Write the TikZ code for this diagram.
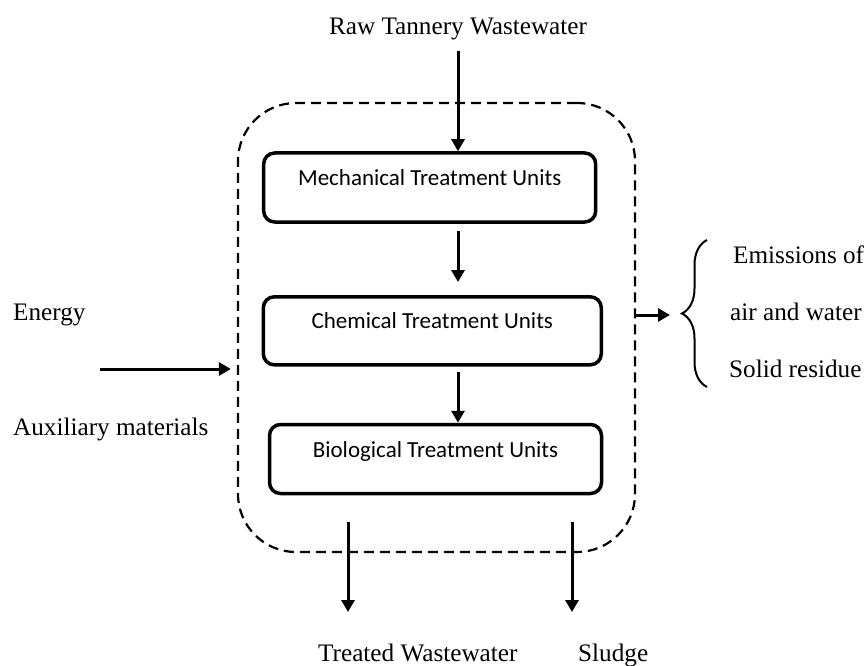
\documentclass[tikz,border=0pt]{standalone}
\usepackage{fontspec}
\setmainfont{Liberation Serif}
\newfontfamily\boxfont{Carlito}
\usetikzlibrary{arrows.meta,decorations.pathreplacing}

\begin{document}
\begin{tikzpicture}[x=1pt,y=-1pt,
  lbl/.style={font=\fontsize{25.2}{28}\selectfont, inner sep=0pt, anchor=base west},
  unit/.style={draw, line width=3.5pt, rounded corners=11pt, minimum width=#1,
    minimum height=69pt, inner sep=0pt, font=\boxfont\fontsize{23}{26}\selectfont,
    text height=16pt, text depth=20pt},
  plantbox/.style={draw, line width=2.2pt, dash pattern=on 10pt off 6pt,
    rounded corners=58pt, minimum width=397pt, minimum height=449pt, inner sep=0pt},
  flow/.style={line width=3pt, -{Triangle[length=12pt,width=13pt]}},
  bracket/.style={line width=2pt, decorate, decoration={brace, amplitude=25pt, aspect=0.5}}
]
\useasboundingbox (0,0) rectangle (868,666);

% system boundary
\node[plantbox] (plant) at (436.5,327.5) {};

% treatment stages
\node[unit=332pt] (mech) at (429.7,187.5) {Mechanical Treatment Units};
\node[unit=338pt, minimum height=68pt] (chem) at (432.3,330.8) {Chemical Treatment Units};
\node[unit=332pt] (bio) at (435.5,459) {Biological Treatment Units};

% labels
\node[lbl, anchor=base] (raw) at (458,35) {Raw Tannery Wastewater};
\node[lbl] (energy) at (13,320) {Energy};
\node[lbl] (aux) at (13,435) {Auxiliary materials};
\node[lbl] (emis) at (733,263) {Emissions of};
\node[lbl] (airw) at (730,320) {air and water};
\node[lbl] (solid) at (729,377) {Solid residue};
\node[lbl] (treated) at (318,661) {Treated Wastewater};
\node[lbl] (sludge) at (578,661) {Sludge};

% free ends of the connectors
\coordinate (ein) at (100,369);
\coordinate (eout) at (670,315);
\coordinate (tws) at (348,522);
\coordinate (twe) at (348,612);
\coordinate (sls) at (572,522);
\coordinate (sle) at (572,612);
\coordinate (brb) at (707,387);
\coordinate (brt) at (707,240);

% main flow
\draw[flow, shorten <=10pt] (raw.south) -- (raw.south |- mech.north);
\draw[flow, shorten <=7.5pt, shorten >=13pt] (raw.south |- mech.south) -- (raw.south |- chem.north);
\draw[flow, shorten <=5.5pt] (raw.south |- chem.south) -- (raw.south |- bio.north);

% inputs and outputs
\draw[flow, shorten >=6pt] (ein) -- (ein -| plant.west);
\draw[flow] (eout -| plant.east) -- (eout);
\draw[flow] (tws) -- (twe);
\draw[flow] (sls) -- (sle);
\draw[bracket] (brb) -- (brt);
\end{tikzpicture}
\end{document}
